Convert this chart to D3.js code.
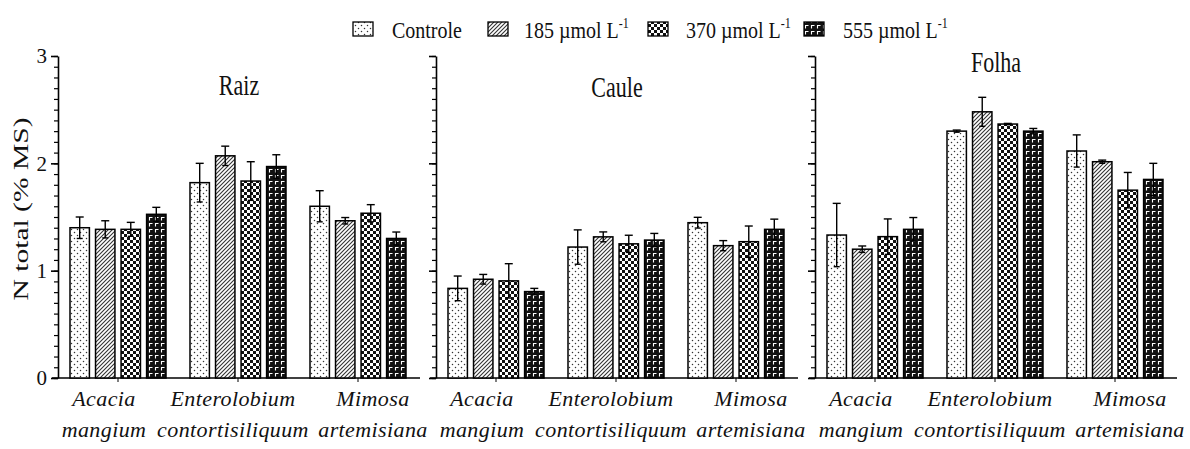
<!DOCTYPE html>
<html lang="pt">
<head>
<meta charset="UTF-8" />
<title>N total</title>
<script src="https://d3js.org/d3.v7.min.js"></script>
<style>
  body { margin: 0; background: #fff; }
  text { font-family: "Liberation Serif", "Times New Roman", serif; fill: #111; }
  .cat { font-style: italic; font-size: 22px; letter-spacing: 0.4px; }
</style>
</head>
<body>
<svg width="1190" height="449"></svg>
<script>
const organs = ["Raiz", "Caule", "Folha"];
const genus = ["Acacia", "Enterolobium", "Mimosa"];
const epithet = ["mangium", "contortisiliquum", "artemisiana"];
const treatments = ["Controle", "185", "370", "555"];
const yTicks = [0, 1, 2, 3];

// mean N total (% MS), one row per species, one column per treatment
const raizMean = [[1.40, 1.385, 1.385, 1.525], [1.82, 2.07, 1.835, 1.97], [1.60, 1.465, 1.535, 1.30]];
const raizErr = [[0.10, 0.08, 0.065, 0.065], [0.18, 0.09, 0.18, 0.11], [0.145, 0.03, 0.08, 0.06]];
const cauleMean = [[0.835, 0.92, 0.905, 0.805], [1.22, 1.315, 1.25, 1.285], [1.447, 1.233, 1.27, 1.385]];
const cauleErr = [[0.115, 0.045, 0.16, 0.03], [0.16, 0.046, 0.08, 0.062], [0.05, 0.047, 0.146, 0.095]];
const folhaMean = [[1.332, 1.20, 1.317, 1.385], [2.30, 2.48, 2.366, 2.30], [2.115, 2.015, 1.75, 1.85]];
const folhaErr = [[0.295, 0.03, 0.165, 0.11], [0.01, 0.135, 0.006, 0.025], [0.15, 0.015, 0.165, 0.15]];

const means = [raizMean, cauleMean, folhaMean];
const errs = [raizErr, cauleErr, folhaErr];

const svg = d3.select("svg");
const defs = svg.append("defs");

// fill patterns
const p0 = defs.append("pattern").attr("id", "pat0").attr("patternUnits", "userSpaceOnUse").attr("width", 6).attr("height", 6);
p0.append("rect").attr("width", 6).attr("height", 6).attr("fill", "#fff");
p0.append("circle").attr("cx", 1.5).attr("cy", 1.5).attr("r", 0.75).attr("fill", "#333");
p0.append("circle").attr("cx", 4.5).attr("cy", 4.5).attr("r", 0.75).attr("fill", "#333");

const p1 = defs.append("pattern").attr("id", "pat1").attr("patternUnits", "userSpaceOnUse").attr("width", 4).attr("height", 4);
p1.append("rect").attr("width", 4).attr("height", 4).attr("fill", "#fff");
p1.append("path").attr("d", "M-1,1 l2,-2 M0,4 l4,-4 M3,5 l2,-2").attr("stroke", "#333").attr("stroke-width", 1.1);

const p2 = defs.append("pattern").attr("id", "pat2").attr("patternUnits", "userSpaceOnUse").attr("width", 6).attr("height", 6);
p2.append("rect").attr("width", 6).attr("height", 6).attr("fill", "#fff");
p2.append("rect").attr("width", 3).attr("height", 3).attr("fill", "#111");
p2.append("rect").attr("x", 3).attr("y", 3).attr("width", 3).attr("height", 3).attr("fill", "#111");

const p3 = defs.append("pattern").attr("id", "pat3").attr("patternUnits", "userSpaceOnUse").attr("width", 6).attr("height", 6);
p3.append("rect").attr("width", 6).attr("height", 6).attr("fill", "#111");
p3.append("path").attr("d", "M1,1.5 H4.5 M1.5,1 V4.5").attr("stroke", "#fff").attr("stroke-width", 1.1);

const y = d3.scaleLinear().domain([0, 3]).range([378, 56]);
const panelX = [58, 436, 815];
const panelW = 360;
const labelShift = [-14, -5, 15];
const titleY = [95, 97, 72];

organs.forEach((organ, pi) => {
  const px = panelX[pi];
  const g = svg.append("g");

  const x0 = d3.scaleBand().domain(genus).range([px, px + panelW]).paddingInner(0.2).paddingOuter(0.1);
  const x1 = d3.scaleBand().domain(treatments).range([0, x0.bandwidth()]).paddingInner(0.24);

  // minor ticks
  g.append("g")
    .attr("transform", `translate(${px},0)`)
    .call(d3.axisLeft(y).tickValues(d3.range(0, 31).map(d => d / 10)).tickSize(4).tickSizeOuter(0).tickFormat(""))
    .call(a => a.selectAll("line").attr("stroke-width", 1.2))
    .call(a => a.select(".domain").attr("stroke-width", 1.6));

  // major ticks
  const major = g.append("g")
    .attr("transform", `translate(${px},0)`)
    .call(d3.axisLeft(y).tickValues(yTicks).tickSize(7).tickSizeOuter(0).tickPadding(4)
      .tickFormat(pi === 0 ? d3.format("d") : ""))
    .call(a => a.select(".domain").remove())
    .call(a => a.selectAll("line").attr("stroke-width", 1.6));
  major.selectAll("text")
    .style("font-family", "'Liberation Serif', serif")
    .style("font-size", "21px")
    .attr("fill", "#222");

  // baseline
  g.append("line")
    .attr("x1", px - 6).attr("x2", px + panelW + 2)
    .attr("y1", y(0)).attr("y2", y(0))
    .attr("stroke", "#000").attr("stroke-width", 1.6);

  g.selectAll(".gt").data(genus).join("line")
    .attr("x1", d => x0(d) + x0.bandwidth() / 2).attr("x2", d => x0(d) + x0.bandwidth() / 2)
    .attr("y1", y(0)).attr("y2", y(0) + 4)
    .attr("stroke", "#000").attr("stroke-width", 1);

  const groups = g.selectAll(".grp").data(genus).join("g")
    .attr("transform", d => `translate(${x0(d)},0)`);

  groups.each(function (sp, si) {
    const rows = treatments.map((t, ti) => ({ t, ti, v: means[pi][si][ti], e: errs[pi][si][ti] }));
    const sel = d3.select(this);

    sel.selectAll("rect").data(rows).join("rect")
      .attr("x", d => x1(d.t))
      .attr("y", d => y(d.v))
      .attr("width", x1.bandwidth())
      .attr("height", d => y(0) - y(d.v))
      .attr("fill", d => `url(#pat${d.ti})`)
      .attr("stroke", "#000")
      .attr("stroke-width", 1.5);

    const eb = sel.selectAll(".eb").data(rows).join("g").attr("class", "eb")
      .attr("stroke", "#000").attr("stroke-width", 1.4);
    eb.append("line")
      .attr("x1", d => x1(d.t) + x1.bandwidth() / 2).attr("x2", d => x1(d.t) + x1.bandwidth() / 2)
      .attr("y1", d => y(d.v + d.e)).attr("y2", d => y(d.v - d.e));
    eb.append("line")
      .attr("x1", d => x1(d.t) + x1.bandwidth() / 2 - 4).attr("x2", d => x1(d.t) + x1.bandwidth() / 2 + 4)
      .attr("y1", d => y(d.v + d.e)).attr("y2", d => y(d.v + d.e));
    eb.append("line")
      .attr("x1", d => x1(d.t) + x1.bandwidth() / 2 - 3).attr("x2", d => x1(d.t) + x1.bandwidth() / 2 + 3)
      .attr("y1", d => y(d.v - d.e)).attr("y2", d => y(d.v - d.e));
  });

  // species labels
  g.selectAll(".c1").data(genus).join("text")
    .attr("class", "cat")
    .attr("text-anchor", "middle")
    .attr("x", (d, i) => x0(d) + x0.bandwidth() / 2 + labelShift[i])
    .attr("y", 406)
    .text(d => d);
  g.selectAll(".c2").data(genus).join("text")
    .attr("class", "cat")
    .attr("text-anchor", "middle")
    .attr("x", (d, i) => x0(d) + x0.bandwidth() / 2 + labelShift[i])
    .attr("y", 437)
    .text((d, i) => epithet[i]);

  // panel title
  g.append("text")
    .attr("text-anchor", "middle")
    .attr("transform", `translate(${px + panelW / 2 + 1},${titleY[pi]}) scale(1,1.3)`)
    .style("font-size", "22px")
    .text(organ);
});

// y label
svg.append("text")
  .attr("transform", "translate(28,209) rotate(-90)")
  .attr("text-anchor", "middle")
  .attr("textLength", 183)
  .attr("lengthAdjust", "spacingAndGlyphs")
  .style("font-size", "22px")
  .attr("fill", "#222")
  .text("N total (% MS)");

// legend
const legSwatchX = [353, 488, 648, 804];
const legTextX = [392, 524, 686, 843];
const leg = svg.append("g");
treatments.forEach((t, i) => {
  leg.append("rect")
    .attr("x", legSwatchX[i]).attr("y", 22)
    .attr("width", 20).attr("height", 14)
    .attr("fill", `url(#pat${i})`)
    .attr("stroke", "#000").attr("stroke-width", 1.3);
  const tx = leg.append("text")
    .attr("transform", `translate(${legTextX[i]},38) scale(1,1.2)`)
    .style("font-size", "20px");
  if (i === 0) {
    tx.text(t);
  } else {
    tx.append("tspan").text(`${t} µmol L`);
    tx.append("tspan").attr("dy", -8).style("font-size", "12px").text("-1");
  }
});
</script>
</body>
</html>
